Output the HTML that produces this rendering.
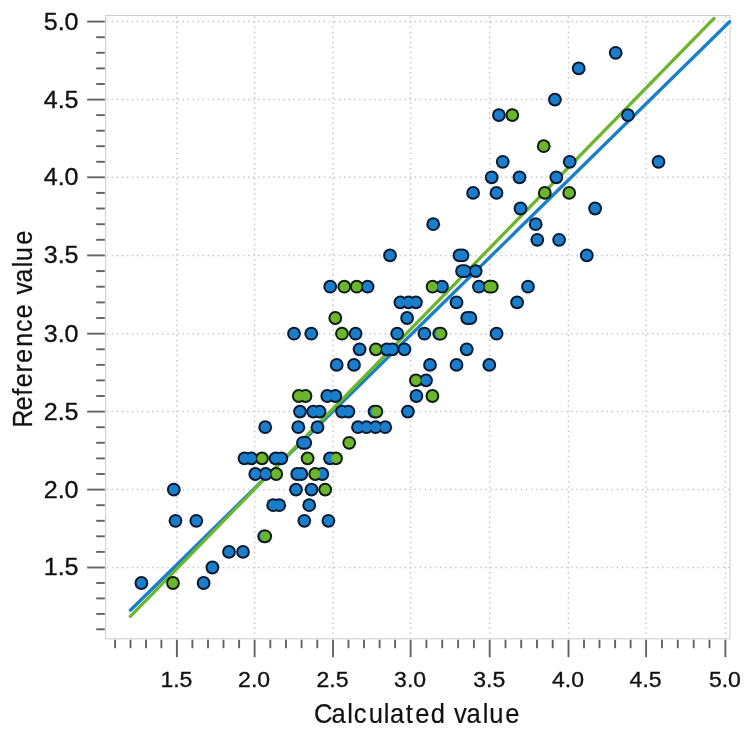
<!DOCTYPE html>
<html lang="en"><head><meta charset="utf-8"><title>Reference value vs Calculated value</title>
<style>html,body{margin:0;padding:0;background:#fff}body{width:750px;height:750px;overflow:hidden}svg{display:block}text{font-family:"Liberation Sans",Arial,sans-serif;fill:#111;stroke:#111;stroke-width:0.32px}</style></head><body>
<svg width="750" height="750" viewBox="0 0 750 750">
<rect width="750" height="750" fill="#fff"/>
<g stroke="#c8c8c8" stroke-width="1.5" stroke-dasharray="1.5 3.55" fill="none">
<line x1="106.6" y1="567.5" x2="730.0" y2="567.5"/>
<line x1="176.9" y1="16.5" x2="176.9" y2="638.8"/>
<line x1="106.6" y1="489.6" x2="730.0" y2="489.6"/>
<line x1="254.6" y1="16.5" x2="254.6" y2="638.8"/>
<line x1="106.6" y1="411.6" x2="730.0" y2="411.6"/>
<line x1="333.0" y1="16.5" x2="333.0" y2="638.8"/>
<line x1="106.6" y1="333.7" x2="730.0" y2="333.7"/>
<line x1="410.6" y1="16.5" x2="410.6" y2="638.8"/>
<line x1="106.6" y1="255.4" x2="730.0" y2="255.4"/>
<line x1="489.7" y1="16.5" x2="489.7" y2="638.8"/>
<line x1="106.6" y1="177.3" x2="730.0" y2="177.3"/>
<line x1="568.5" y1="16.5" x2="568.5" y2="638.8"/>
<line x1="106.6" y1="99.6" x2="730.0" y2="99.6"/>
<line x1="646.1" y1="16.5" x2="646.1" y2="638.8"/>
<line x1="106.6" y1="21.6" x2="730.0" y2="21.6"/>
<line x1="725.4" y1="16.5" x2="725.4" y2="638.8"/>
</g>
<rect x="105.6" y="15.5" width="624.4" height="623.3" fill="none" stroke="#cfcfcf" stroke-width="1.1"/>
<g stroke="#626262" stroke-width="1.9" fill="none">
<line x1="96.2" y1="629.3" x2="104.8" y2="629.3"/>
<line x1="115.1" y1="639.8" x2="115.1" y2="648.2"/>
<line x1="96.2" y1="613.9" x2="104.8" y2="613.9"/>
<line x1="130.5" y1="639.8" x2="130.5" y2="648.2"/>
<line x1="96.2" y1="598.4" x2="104.8" y2="598.4"/>
<line x1="146.0" y1="639.8" x2="146.0" y2="648.2"/>
<line x1="96.2" y1="583.0" x2="104.8" y2="583.0"/>
<line x1="161.4" y1="639.8" x2="161.4" y2="648.2"/>
<line x1="87.2" y1="567.5" x2="104.8" y2="567.5"/>
<line x1="176.9" y1="639.8" x2="176.9" y2="657.2"/>
<line x1="96.2" y1="551.9" x2="104.8" y2="551.9"/>
<line x1="192.4" y1="639.8" x2="192.4" y2="648.2"/>
<line x1="96.2" y1="536.3" x2="104.8" y2="536.3"/>
<line x1="208.0" y1="639.8" x2="208.0" y2="648.2"/>
<line x1="96.2" y1="520.8" x2="104.8" y2="520.8"/>
<line x1="223.5" y1="639.8" x2="223.5" y2="648.2"/>
<line x1="96.2" y1="505.2" x2="104.8" y2="505.2"/>
<line x1="239.1" y1="639.8" x2="239.1" y2="648.2"/>
<line x1="87.2" y1="489.6" x2="104.8" y2="489.6"/>
<line x1="254.6" y1="639.8" x2="254.6" y2="657.2"/>
<line x1="96.2" y1="474.0" x2="104.8" y2="474.0"/>
<line x1="270.3" y1="639.8" x2="270.3" y2="648.2"/>
<line x1="96.2" y1="458.4" x2="104.8" y2="458.4"/>
<line x1="286.0" y1="639.8" x2="286.0" y2="648.2"/>
<line x1="96.2" y1="442.8" x2="104.8" y2="442.8"/>
<line x1="301.6" y1="639.8" x2="301.6" y2="648.2"/>
<line x1="96.2" y1="427.2" x2="104.8" y2="427.2"/>
<line x1="317.3" y1="639.8" x2="317.3" y2="648.2"/>
<line x1="87.2" y1="411.6" x2="104.8" y2="411.6"/>
<line x1="333.0" y1="639.8" x2="333.0" y2="657.2"/>
<line x1="96.2" y1="396.0" x2="104.8" y2="396.0"/>
<line x1="348.5" y1="639.8" x2="348.5" y2="648.2"/>
<line x1="96.2" y1="380.4" x2="104.8" y2="380.4"/>
<line x1="364.0" y1="639.8" x2="364.0" y2="648.2"/>
<line x1="96.2" y1="364.9" x2="104.8" y2="364.9"/>
<line x1="379.6" y1="639.8" x2="379.6" y2="648.2"/>
<line x1="96.2" y1="349.3" x2="104.8" y2="349.3"/>
<line x1="395.1" y1="639.8" x2="395.1" y2="648.2"/>
<line x1="87.2" y1="333.7" x2="104.8" y2="333.7"/>
<line x1="410.6" y1="639.8" x2="410.6" y2="657.2"/>
<line x1="96.2" y1="318.0" x2="104.8" y2="318.0"/>
<line x1="426.4" y1="639.8" x2="426.4" y2="648.2"/>
<line x1="96.2" y1="302.4" x2="104.8" y2="302.4"/>
<line x1="442.2" y1="639.8" x2="442.2" y2="648.2"/>
<line x1="96.2" y1="286.7" x2="104.8" y2="286.7"/>
<line x1="458.1" y1="639.8" x2="458.1" y2="648.2"/>
<line x1="96.2" y1="271.1" x2="104.8" y2="271.1"/>
<line x1="473.9" y1="639.8" x2="473.9" y2="648.2"/>
<line x1="87.2" y1="255.4" x2="104.8" y2="255.4"/>
<line x1="489.7" y1="639.8" x2="489.7" y2="657.2"/>
<line x1="96.2" y1="239.8" x2="104.8" y2="239.8"/>
<line x1="505.5" y1="639.8" x2="505.5" y2="648.2"/>
<line x1="96.2" y1="224.2" x2="104.8" y2="224.2"/>
<line x1="521.2" y1="639.8" x2="521.2" y2="648.2"/>
<line x1="96.2" y1="208.5" x2="104.8" y2="208.5"/>
<line x1="537.0" y1="639.8" x2="537.0" y2="648.2"/>
<line x1="96.2" y1="192.9" x2="104.8" y2="192.9"/>
<line x1="552.7" y1="639.8" x2="552.7" y2="648.2"/>
<line x1="87.2" y1="177.3" x2="104.8" y2="177.3"/>
<line x1="568.5" y1="639.8" x2="568.5" y2="657.2"/>
<line x1="96.2" y1="161.8" x2="104.8" y2="161.8"/>
<line x1="584.0" y1="639.8" x2="584.0" y2="648.2"/>
<line x1="96.2" y1="146.2" x2="104.8" y2="146.2"/>
<line x1="599.5" y1="639.8" x2="599.5" y2="648.2"/>
<line x1="96.2" y1="130.7" x2="104.8" y2="130.7"/>
<line x1="615.1" y1="639.8" x2="615.1" y2="648.2"/>
<line x1="96.2" y1="115.1" x2="104.8" y2="115.1"/>
<line x1="630.6" y1="639.8" x2="630.6" y2="648.2"/>
<line x1="87.2" y1="99.6" x2="104.8" y2="99.6"/>
<line x1="646.1" y1="639.8" x2="646.1" y2="657.2"/>
<line x1="96.2" y1="84.0" x2="104.8" y2="84.0"/>
<line x1="662.0" y1="639.8" x2="662.0" y2="648.2"/>
<line x1="96.2" y1="68.4" x2="104.8" y2="68.4"/>
<line x1="677.8" y1="639.8" x2="677.8" y2="648.2"/>
<line x1="96.2" y1="52.8" x2="104.8" y2="52.8"/>
<line x1="693.7" y1="639.8" x2="693.7" y2="648.2"/>
<line x1="96.2" y1="37.2" x2="104.8" y2="37.2"/>
<line x1="709.5" y1="639.8" x2="709.5" y2="648.2"/>
<line x1="87.2" y1="21.6" x2="104.8" y2="21.6"/>
<line x1="725.4" y1="639.8" x2="725.4" y2="657.2"/>
</g>
<g font-size="23px" text-anchor="end">
<text x="78.6" y="575.4" textLength="34.9" lengthAdjust="spacingAndGlyphs">1.5</text>
<text x="78.6" y="497.5" textLength="34.9" lengthAdjust="spacingAndGlyphs">2.0</text>
<text x="78.6" y="419.5" textLength="34.9" lengthAdjust="spacingAndGlyphs">2.5</text>
<text x="78.6" y="341.6" textLength="34.9" lengthAdjust="spacingAndGlyphs">3.0</text>
<text x="78.6" y="263.3" textLength="34.9" lengthAdjust="spacingAndGlyphs">3.5</text>
<text x="78.6" y="185.2" textLength="34.9" lengthAdjust="spacingAndGlyphs">4.0</text>
<text x="78.6" y="107.5" textLength="34.9" lengthAdjust="spacingAndGlyphs">4.5</text>
<text x="78.6" y="29.5" textLength="34.9" lengthAdjust="spacingAndGlyphs">5.0</text>
</g>
<g font-size="21.6px" text-anchor="middle">
<text x="176.4" y="687.4" textLength="32.0" lengthAdjust="spacingAndGlyphs">1.5</text>
<text x="254.1" y="687.4" textLength="32.0" lengthAdjust="spacingAndGlyphs">2.0</text>
<text x="332.5" y="687.4" textLength="32.0" lengthAdjust="spacingAndGlyphs">2.5</text>
<text x="410.1" y="687.4" textLength="32.0" lengthAdjust="spacingAndGlyphs">3.0</text>
<text x="489.2" y="687.4" textLength="32.0" lengthAdjust="spacingAndGlyphs">3.5</text>
<text x="568.0" y="687.4" textLength="32.0" lengthAdjust="spacingAndGlyphs">4.0</text>
<text x="645.6" y="687.4" textLength="32.0" lengthAdjust="spacingAndGlyphs">4.5</text>
<text x="724.9" y="687.4" textLength="32.0" lengthAdjust="spacingAndGlyphs">5.0</text>
</g>
<text style="stroke-width:0.2px" transform="scale(0.93 1)" y="722.6" font-size="27.5px" x="337.7 356.5 373.3 380.5 396.5 412.7 419.4 436.3 446.6 463.3 470.1 488.3 501.7 519.0 526.0 543.4">Calculated value</text>
<text style="stroke-width:0.28px" transform="translate(32.3 0) rotate(-90) scale(0.885 1)" y="0" font-size="28px" x="-483.0 -463.5 -447.0 -437.5 -420.9 -409.8 -391.7 -375.1 -359.5 -352.5 -332.7 -319.1 -302.0 -295.0 -276.2">Reference value</text>
<line x1="130.4" y1="610.2" x2="729.6" y2="21.8" stroke="#1a7eca" stroke-width="3.3" stroke-linecap="round"/>
<line x1="130.4" y1="616.3" x2="714" y2="18.4" stroke="#6bb62a" stroke-width="3.3" stroke-linecap="round"/>
<g fill="#081a33">
<circle cx="141.4" cy="583.0" r="6.9"/>
<circle cx="203.6" cy="583.0" r="6.9"/>
<circle cx="212.4" cy="567.5" r="6.9"/>
<circle cx="229.0" cy="551.9" r="6.9"/>
<circle cx="243.0" cy="551.9" r="6.9"/>
<circle cx="264.2" cy="536.3" r="6.9"/>
<circle cx="175.5" cy="520.8" r="6.9"/>
<circle cx="196.3" cy="520.8" r="6.9"/>
<circle cx="304.3" cy="520.8" r="6.9"/>
<circle cx="328.4" cy="520.8" r="6.9"/>
<circle cx="273.2" cy="505.2" r="6.9"/>
<circle cx="279.2" cy="505.2" r="6.9"/>
<circle cx="309.2" cy="505.2" r="6.9"/>
<circle cx="173.8" cy="489.6" r="6.9"/>
<circle cx="296.0" cy="489.6" r="6.9"/>
<circle cx="311.5" cy="489.6" r="6.9"/>
<circle cx="255.3" cy="474.0" r="6.9"/>
<circle cx="265.6" cy="474.0" r="6.9"/>
<circle cx="297.2" cy="474.0" r="6.9"/>
<circle cx="301.3" cy="474.0" r="6.9"/>
<circle cx="322.3" cy="474.0" r="6.9"/>
<circle cx="244.5" cy="458.4" r="6.9"/>
<circle cx="251.3" cy="458.4" r="6.9"/>
<circle cx="275.6" cy="458.4" r="6.9"/>
<circle cx="281.3" cy="458.4" r="6.9"/>
<circle cx="330.0" cy="458.4" r="6.9"/>
<circle cx="302.9" cy="442.8" r="6.9"/>
<circle cx="305.3" cy="442.8" r="6.9"/>
<circle cx="265.2" cy="427.2" r="6.9"/>
<circle cx="298.3" cy="427.2" r="6.9"/>
<circle cx="317.5" cy="427.2" r="6.9"/>
<circle cx="358.0" cy="427.2" r="6.9"/>
<circle cx="366.5" cy="427.2" r="6.9"/>
<circle cx="375.6" cy="427.2" r="6.9"/>
<circle cx="385.2" cy="427.2" r="6.9"/>
<circle cx="300.0" cy="411.6" r="6.9"/>
<circle cx="313.2" cy="411.6" r="6.9"/>
<circle cx="319.6" cy="411.6" r="6.9"/>
<circle cx="342.0" cy="411.6" r="6.9"/>
<circle cx="348.4" cy="411.6" r="6.9"/>
<circle cx="374.5" cy="411.6" r="6.9"/>
<circle cx="407.9" cy="411.6" r="6.9"/>
<circle cx="327.3" cy="396.0" r="6.9"/>
<circle cx="335.3" cy="396.0" r="6.9"/>
<circle cx="416.4" cy="396.0" r="6.9"/>
<circle cx="426.0" cy="380.4" r="6.9"/>
<circle cx="336.7" cy="364.9" r="6.9"/>
<circle cx="354.0" cy="364.9" r="6.9"/>
<circle cx="430.0" cy="364.9" r="6.9"/>
<circle cx="456.5" cy="364.9" r="6.9"/>
<circle cx="489.3" cy="364.9" r="6.9"/>
<circle cx="359.6" cy="349.3" r="6.9"/>
<circle cx="386.8" cy="349.3" r="6.9"/>
<circle cx="392.4" cy="349.3" r="6.9"/>
<circle cx="404.4" cy="349.3" r="6.9"/>
<circle cx="466.7" cy="349.3" r="6.9"/>
<circle cx="294.0" cy="333.7" r="6.9"/>
<circle cx="311.3" cy="333.7" r="6.9"/>
<circle cx="355.6" cy="333.7" r="6.9"/>
<circle cx="397.2" cy="333.7" r="6.9"/>
<circle cx="424.4" cy="333.7" r="6.9"/>
<circle cx="439.2" cy="333.7" r="6.9"/>
<circle cx="496.6" cy="333.7" r="6.9"/>
<circle cx="407.1" cy="318.0" r="6.9"/>
<circle cx="467.2" cy="318.0" r="6.9"/>
<circle cx="470.4" cy="318.0" r="6.9"/>
<circle cx="400.4" cy="302.4" r="6.9"/>
<circle cx="408.4" cy="302.4" r="6.9"/>
<circle cx="415.9" cy="302.4" r="6.9"/>
<circle cx="456.5" cy="302.4" r="6.9"/>
<circle cx="517.1" cy="302.4" r="6.9"/>
<circle cx="330.2" cy="286.7" r="6.9"/>
<circle cx="367.6" cy="286.7" r="6.9"/>
<circle cx="442.0" cy="286.7" r="6.9"/>
<circle cx="478.9" cy="286.7" r="6.9"/>
<circle cx="528.0" cy="286.7" r="6.9"/>
<circle cx="462.0" cy="271.1" r="6.9"/>
<circle cx="464.8" cy="271.1" r="6.9"/>
<circle cx="475.7" cy="271.1" r="6.9"/>
<circle cx="390.0" cy="255.4" r="6.9"/>
<circle cx="459.5" cy="255.4" r="6.9"/>
<circle cx="462.5" cy="255.4" r="6.9"/>
<circle cx="586.8" cy="255.4" r="6.9"/>
<circle cx="537.3" cy="239.8" r="6.9"/>
<circle cx="559.1" cy="239.8" r="6.9"/>
<circle cx="433.2" cy="224.2" r="6.9"/>
<circle cx="535.7" cy="224.2" r="6.9"/>
<circle cx="520.5" cy="208.5" r="6.9"/>
<circle cx="595.1" cy="208.5" r="6.9"/>
<circle cx="473.1" cy="192.9" r="6.9"/>
<circle cx="496.5" cy="192.9" r="6.9"/>
<circle cx="491.7" cy="177.3" r="6.9"/>
<circle cx="519.5" cy="177.3" r="6.9"/>
<circle cx="556.3" cy="177.3" r="6.9"/>
<circle cx="502.7" cy="161.8" r="6.9"/>
<circle cx="569.7" cy="161.8" r="6.9"/>
<circle cx="658.5" cy="161.8" r="6.9"/>
<circle cx="498.9" cy="115.1" r="6.9"/>
<circle cx="627.9" cy="115.1" r="6.9"/>
<circle cx="554.9" cy="99.6" r="6.9"/>
<circle cx="578.7" cy="68.4" r="6.9"/>
<circle cx="615.7" cy="52.8" r="6.9"/>
</g>
<g fill="#0e1d0c">
<circle cx="173.0" cy="583.0" r="6.9"/>
<circle cx="265.2" cy="536.3" r="6.9"/>
<circle cx="325.2" cy="489.6" r="6.9"/>
<circle cx="276.2" cy="474.0" r="6.9"/>
<circle cx="315.2" cy="474.0" r="6.9"/>
<circle cx="262.0" cy="458.4" r="6.9"/>
<circle cx="307.6" cy="458.4" r="6.9"/>
<circle cx="336.0" cy="458.4" r="6.9"/>
<circle cx="349.2" cy="442.8" r="6.9"/>
<circle cx="376.4" cy="411.6" r="6.9"/>
<circle cx="298.8" cy="396.0" r="6.9"/>
<circle cx="305.5" cy="396.0" r="6.9"/>
<circle cx="432.4" cy="396.0" r="6.9"/>
<circle cx="415.9" cy="380.4" r="6.9"/>
<circle cx="375.9" cy="349.3" r="6.9"/>
<circle cx="342.0" cy="333.7" r="6.9"/>
<circle cx="440.6" cy="333.7" r="6.9"/>
<circle cx="335.3" cy="318.0" r="6.9"/>
<circle cx="344.3" cy="286.7" r="6.9"/>
<circle cx="356.7" cy="286.7" r="6.9"/>
<circle cx="432.6" cy="286.7" r="6.9"/>
<circle cx="489.5" cy="286.7" r="6.9"/>
<circle cx="491.8" cy="286.7" r="6.9"/>
<circle cx="544.8" cy="192.9" r="6.9"/>
<circle cx="569.2" cy="192.9" r="6.9"/>
<circle cx="543.7" cy="146.2" r="6.9"/>
<circle cx="512.3" cy="115.1" r="6.9"/>
</g>
<g fill="#1a7eca">
<circle cx="141.4" cy="583.0" r="4.9"/>
<circle cx="203.6" cy="583.0" r="4.9"/>
<circle cx="212.4" cy="567.5" r="4.9"/>
<circle cx="229.0" cy="551.9" r="4.9"/>
<circle cx="243.0" cy="551.9" r="4.9"/>
<circle cx="264.2" cy="536.3" r="4.9"/>
<circle cx="175.5" cy="520.8" r="4.9"/>
<circle cx="196.3" cy="520.8" r="4.9"/>
<circle cx="304.3" cy="520.8" r="4.9"/>
<circle cx="328.4" cy="520.8" r="4.9"/>
<circle cx="273.2" cy="505.2" r="4.9"/>
<circle cx="279.2" cy="505.2" r="4.9"/>
<circle cx="309.2" cy="505.2" r="4.9"/>
<circle cx="173.8" cy="489.6" r="4.9"/>
<circle cx="296.0" cy="489.6" r="4.9"/>
<circle cx="311.5" cy="489.6" r="4.9"/>
<circle cx="255.3" cy="474.0" r="4.9"/>
<circle cx="265.6" cy="474.0" r="4.9"/>
<circle cx="297.2" cy="474.0" r="4.9"/>
<circle cx="301.3" cy="474.0" r="4.9"/>
<circle cx="322.3" cy="474.0" r="4.9"/>
<circle cx="244.5" cy="458.4" r="4.9"/>
<circle cx="251.3" cy="458.4" r="4.9"/>
<circle cx="275.6" cy="458.4" r="4.9"/>
<circle cx="281.3" cy="458.4" r="4.9"/>
<circle cx="330.0" cy="458.4" r="4.9"/>
<circle cx="302.9" cy="442.8" r="4.9"/>
<circle cx="305.3" cy="442.8" r="4.9"/>
<circle cx="265.2" cy="427.2" r="4.9"/>
<circle cx="298.3" cy="427.2" r="4.9"/>
<circle cx="317.5" cy="427.2" r="4.9"/>
<circle cx="358.0" cy="427.2" r="4.9"/>
<circle cx="366.5" cy="427.2" r="4.9"/>
<circle cx="375.6" cy="427.2" r="4.9"/>
<circle cx="385.2" cy="427.2" r="4.9"/>
<circle cx="300.0" cy="411.6" r="4.9"/>
<circle cx="313.2" cy="411.6" r="4.9"/>
<circle cx="319.6" cy="411.6" r="4.9"/>
<circle cx="342.0" cy="411.6" r="4.9"/>
<circle cx="348.4" cy="411.6" r="4.9"/>
<circle cx="374.5" cy="411.6" r="4.9"/>
<circle cx="407.9" cy="411.6" r="4.9"/>
<circle cx="327.3" cy="396.0" r="4.9"/>
<circle cx="335.3" cy="396.0" r="4.9"/>
<circle cx="416.4" cy="396.0" r="4.9"/>
<circle cx="426.0" cy="380.4" r="4.9"/>
<circle cx="336.7" cy="364.9" r="4.9"/>
<circle cx="354.0" cy="364.9" r="4.9"/>
<circle cx="430.0" cy="364.9" r="4.9"/>
<circle cx="456.5" cy="364.9" r="4.9"/>
<circle cx="489.3" cy="364.9" r="4.9"/>
<circle cx="359.6" cy="349.3" r="4.9"/>
<circle cx="386.8" cy="349.3" r="4.9"/>
<circle cx="392.4" cy="349.3" r="4.9"/>
<circle cx="404.4" cy="349.3" r="4.9"/>
<circle cx="466.7" cy="349.3" r="4.9"/>
<circle cx="294.0" cy="333.7" r="4.9"/>
<circle cx="311.3" cy="333.7" r="4.9"/>
<circle cx="355.6" cy="333.7" r="4.9"/>
<circle cx="397.2" cy="333.7" r="4.9"/>
<circle cx="424.4" cy="333.7" r="4.9"/>
<circle cx="439.2" cy="333.7" r="4.9"/>
<circle cx="496.6" cy="333.7" r="4.9"/>
<circle cx="407.1" cy="318.0" r="4.9"/>
<circle cx="467.2" cy="318.0" r="4.9"/>
<circle cx="470.4" cy="318.0" r="4.9"/>
<circle cx="400.4" cy="302.4" r="4.9"/>
<circle cx="408.4" cy="302.4" r="4.9"/>
<circle cx="415.9" cy="302.4" r="4.9"/>
<circle cx="456.5" cy="302.4" r="4.9"/>
<circle cx="517.1" cy="302.4" r="4.9"/>
<circle cx="330.2" cy="286.7" r="4.9"/>
<circle cx="367.6" cy="286.7" r="4.9"/>
<circle cx="478.9" cy="286.7" r="4.9"/>
<circle cx="528.0" cy="286.7" r="4.9"/>
<circle cx="462.0" cy="271.1" r="4.9"/>
<circle cx="464.8" cy="271.1" r="4.9"/>
<circle cx="475.7" cy="271.1" r="4.9"/>
<circle cx="390.0" cy="255.4" r="4.9"/>
<circle cx="459.5" cy="255.4" r="4.9"/>
<circle cx="462.5" cy="255.4" r="4.9"/>
<circle cx="586.8" cy="255.4" r="4.9"/>
<circle cx="537.3" cy="239.8" r="4.9"/>
<circle cx="559.1" cy="239.8" r="4.9"/>
<circle cx="433.2" cy="224.2" r="4.9"/>
<circle cx="535.7" cy="224.2" r="4.9"/>
<circle cx="520.5" cy="208.5" r="4.9"/>
<circle cx="595.1" cy="208.5" r="4.9"/>
<circle cx="473.1" cy="192.9" r="4.9"/>
<circle cx="496.5" cy="192.9" r="4.9"/>
<circle cx="491.7" cy="177.3" r="4.9"/>
<circle cx="519.5" cy="177.3" r="4.9"/>
<circle cx="556.3" cy="177.3" r="4.9"/>
<circle cx="502.7" cy="161.8" r="4.9"/>
<circle cx="569.7" cy="161.8" r="4.9"/>
<circle cx="658.5" cy="161.8" r="4.9"/>
<circle cx="498.9" cy="115.1" r="4.9"/>
<circle cx="627.9" cy="115.1" r="4.9"/>
<circle cx="554.9" cy="99.6" r="4.9"/>
<circle cx="578.7" cy="68.4" r="4.9"/>
<circle cx="615.7" cy="52.8" r="4.9"/>
</g>
<g fill="#6bb62a">
<circle cx="173.0" cy="583.0" r="4.9"/>
<circle cx="265.2" cy="536.3" r="4.9"/>
<circle cx="325.2" cy="489.6" r="4.9"/>
<circle cx="276.2" cy="474.0" r="4.9"/>
<circle cx="315.2" cy="474.0" r="4.9"/>
<circle cx="262.0" cy="458.4" r="4.9"/>
<circle cx="307.6" cy="458.4" r="4.9"/>
<circle cx="336.0" cy="458.4" r="4.9"/>
<circle cx="349.2" cy="442.8" r="4.9"/>
<circle cx="376.4" cy="411.6" r="4.9"/>
<circle cx="298.8" cy="396.0" r="4.9"/>
<circle cx="305.5" cy="396.0" r="4.9"/>
<circle cx="432.4" cy="396.0" r="4.9"/>
<circle cx="415.9" cy="380.4" r="4.9"/>
<circle cx="375.9" cy="349.3" r="4.9"/>
<circle cx="342.0" cy="333.7" r="4.9"/>
<circle cx="440.6" cy="333.7" r="4.9"/>
<circle cx="335.3" cy="318.0" r="4.9"/>
<circle cx="344.3" cy="286.7" r="4.9"/>
<circle cx="356.7" cy="286.7" r="4.9"/>
<circle cx="432.6" cy="286.7" r="4.9"/>
<circle cx="489.5" cy="286.7" r="4.9"/>
<circle cx="491.8" cy="286.7" r="4.9"/>
<circle cx="544.8" cy="192.9" r="4.9"/>
<circle cx="569.2" cy="192.9" r="4.9"/>
<circle cx="543.7" cy="146.2" r="4.9"/>
<circle cx="512.3" cy="115.1" r="4.9"/>
</g>
<circle cx="442.0" cy="286.7" r="4.9" fill="#1a7eca"/>
</svg></body></html>
